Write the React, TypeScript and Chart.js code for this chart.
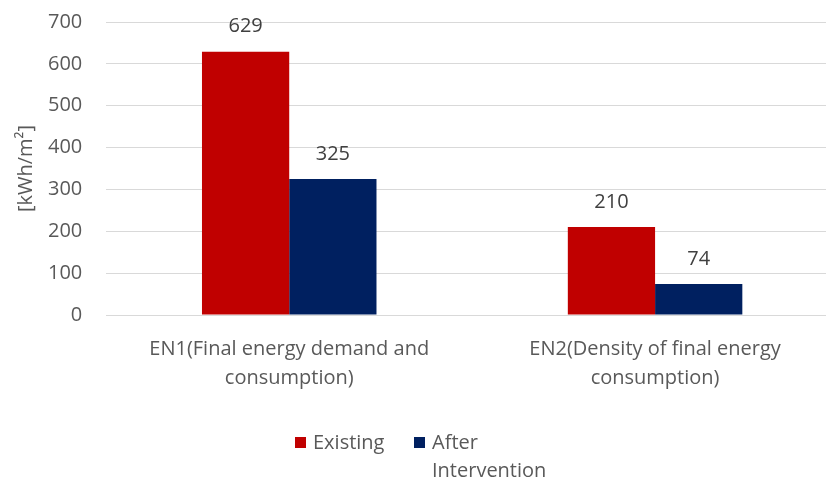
import React, { useEffect, useRef } from "react";
import { Chart, registerables } from "chart.js";

Chart.register(...registerables);

const categories: string[][] = [
  ["EN1(Final energy demand and", "consumption)"],
  ["EN2(Density of final energy", "consumption)"],
];
const existing: number[] = [629, 210];
const afterIntervention: number[] = [325, 74];
const seriesNames: string[][] = [["Existing"], ["After", "Intervention"]];
const seriesColors: string[] = ["#C00000", "#002060"];
const yTicks = { min: 0, max: 700, step: 100 };
const yTitle = "[kWh/m²]";

const FONT = "'Open Sans', Lato, sans-serif";
const TEXT = "#595959";

const valueLabels = {
  id: "valueLabels",
  afterDatasetsDraw(chart: any) {
    const ctx = chart.ctx;
    ctx.save();
    ctx.font = `20px ${FONT}`;
    ctx.fillStyle = "#404040";
    ctx.textAlign = "center";
    ctx.textBaseline = "middle";
    chart.data.datasets.forEach((ds: any, i: number) => {
      const meta = chart.getDatasetMeta(i);
      meta.data.forEach((bar: any, j: number) => {
        ctx.fillText(String(ds.data[j]), bar.x, bar.y - 25);
      });
    });
    ctx.restore();
  },
};

const customLegend = {
  id: "customLegend",
  afterDraw(chart: any) {
    const ctx = chart.ctx;
    ctx.save();
    ctx.font = `20px ${FONT}`;
    ctx.textBaseline = "middle";
    ctx.textAlign = "left";
    const y0 = 443;
    const lh = 28;
    const xs = [295, 414];
    chart.data.datasets.forEach((ds: any, i: number) => {
      const x = xs[i];
      ctx.fillStyle = ds.backgroundColor;
      ctx.fillRect(x, y0 - 6, 11, 11);
      ctx.fillStyle = TEXT;
      seriesNames[i].forEach((line, k) => {
        ctx.fillText(line, x + 18, y0 + k * lh);
      });
    });
    ctx.restore();
  },
};

export default function App() {
  const ref = useRef<HTMLCanvasElement | null>(null);
  useEffect(() => {
    if (!ref.current) return;
    const chart = new Chart(ref.current, {
      type: "bar",
      data: {
        labels: categories,
        datasets: [
          {
            label: "Existing",
            data: existing,
            backgroundColor: seriesColors[0],
            categoryPercentage: 0.477,
            barPercentage: 1,
          },
          {
            label: "After Intervention",
            data: afterIntervention,
            backgroundColor: seriesColors[1],
            categoryPercentage: 0.477,
            barPercentage: 1,
          },
        ],
      },
      options: {
        responsive: false,
        animation: false,
        layout: { padding: { left: 14, right: 12, top: 22, bottom: 79 } },
        plugins: {
          legend: { display: false },
          tooltip: { enabled: false },
        },
        scales: {
          x: {
            grid: { display: false },
            border: { display: false },
            ticks: {
              color: TEXT,
              font: { family: FONT, size: 20, lineHeight: 1.45 },
              maxRotation: 0,
              padding: 12,
            },
          },
          y: {
            min: yTicks.min,
            max: yTicks.max,
            grid: {
              color: "#D9D9D9",
              lineWidth: 1,
              drawTicks: true,
              tickLength: 21,
              tickColor: "rgba(0,0,0,0)",
            },
            border: { display: false },
            ticks: {
              stepSize: yTicks.step,
              color: TEXT,
              font: { family: FONT, size: 20 },
              padding: 3,
            },
            title: {
              display: true,
              text: yTitle,
              color: TEXT,
              font: { family: FONT, size: 20 },
              padding: { top: 0, bottom: 7 },
            },
          },
        },
      },
      plugins: [valueLabels, customLegend],
    });
    return () => chart.destroy();
  }, []);
  return (
    <div style={{ position: "fixed", left: 0, top: 0, width: 826, height: 484, overflow: "hidden", background: "#fff" }}>
      <canvas ref={ref} width={850} height={484} style={{ display: "block" }} />
    </div>
  );
}
